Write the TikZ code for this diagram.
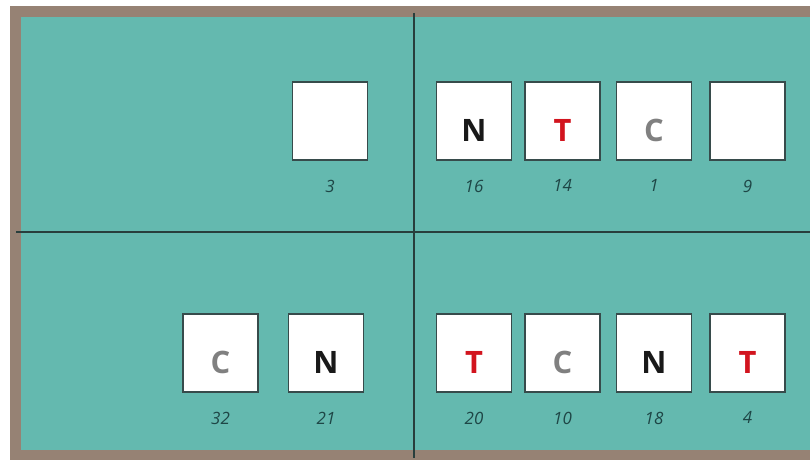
\documentclass[tikz,border=0pt]{standalone}
\usepackage{fontspec}
\setmainfont{Open Sans}
\usetikzlibrary{positioning}

\definecolor{framebrown}{RGB}{150,130,116}
\definecolor{poolteal}{RGB}{100,185,175}
\definecolor{divline}{RGB}{40,62,60}
\definecolor{slotedge}{RGB}{55,75,75}
\definecolor{numcol}{RGB}{30,70,70}
\definecolor{tagred}{RGB}{210,20,30}
\definecolor{taggray}{RGB}{128,128,128}
\definecolor{tagblack}{RGB}{25,25,25}

\tikzset{
  slot/.style={draw=slotedge, line width=1.3bp, fill=white,
    minimum width=75bp, minimum height=78bp, inner sep=0pt},
  tag/.style={font=\bfseries\fontsize{31}{31}\selectfont, inner sep=0pt},
  num/.style={font=\itshape\fontsize{17}{17}\selectfont, text=numcol, inner sep=0pt},
}

\begin{document}
\begin{tikzpicture}[x=1bp,y=-1bp]
    \useasboundingbox (0,0) rectangle (810,460);

    % Frame and water
    \fill[framebrown] (10,6) rectangle (810,460);
    \fill[poolteal] (21,17) rectangle (810,450);

    % Dividers
    \coordinate (vtop) at (414,13);
    \coordinate (vbot) at (414,458);
    \coordinate (hleft) at (16,232);
    \coordinate (hright) at (810,232);
    \draw[divline, line width=1.2bp] (vtop) -- (vbot);
    \draw[divline, line width=1.2bp] (hleft) -- (hright);

    % Slots with their numbers
    \foreach \id/\x/\y in {3/330/121, 16/474/121, 14/562.5/121, 1/654/121, 9/747.5/121,
                           32/220.5/353, 21/326/353, 20/474/353, 10/562.5/353, 18/654/353, 4/747.5/353} {
        \node[slot] (s\id) at (\x,\y) {};
        \node[num, below=19bp of s\id] (n\id) {\id};
    }

    % Letters
    \foreach \id/\txt/\col in {16/N/tagblack, 14/T/tagred, 1/C/taggray,
                               32/C/taggray, 21/N/tagblack, 20/T/tagred,
                               10/C/taggray, 18/N/tagblack, 4/T/tagred} {
        \node[tag, text=\col] (t\id) at ([yshift=-9bp]s\id.center) {\txt};
    }
\end{tikzpicture}
\end{document}
